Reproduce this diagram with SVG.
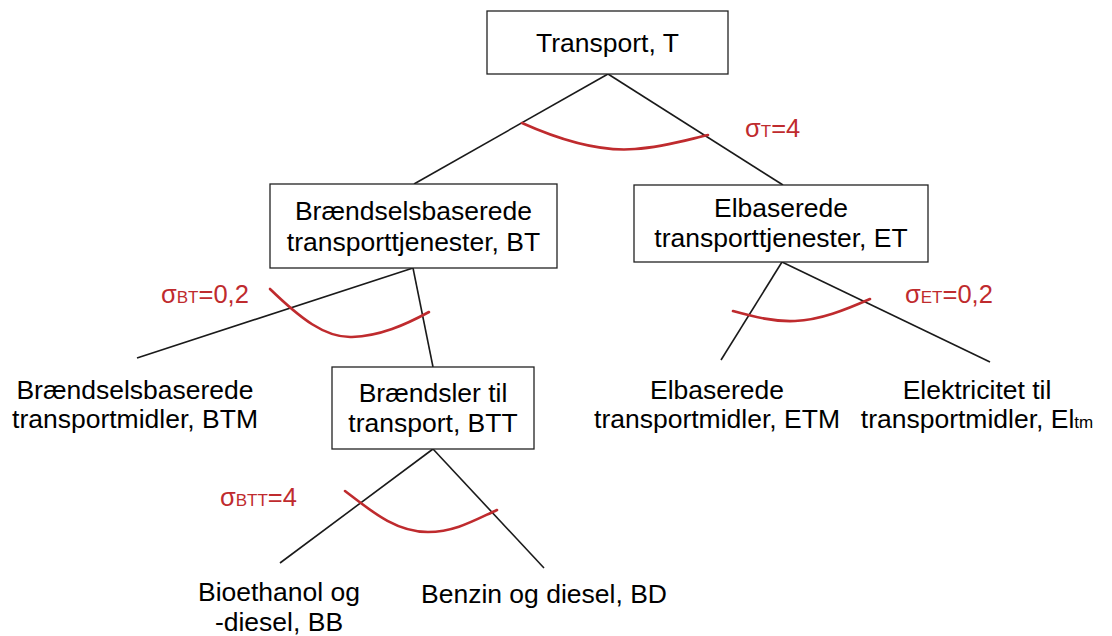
<svg xmlns="http://www.w3.org/2000/svg" width="1112" height="636" viewBox="0 0 1112 636">
  <defs>
    <style>
      .box { fill: #ffffff; stroke: #222222; stroke-width: 1.3; }
      .edge { stroke: #1a1a1a; stroke-width: 1.6; fill: none; stroke-linecap: butt; }
      .arc { stroke: #bf2b2e; stroke-width: 2.6; fill: none; stroke-linecap: round; }
      .lbl { font-family: "Liberation Sans", Arial, sans-serif; font-size: 26.5px; fill: #000000; text-anchor: middle; }
      .sig { font-family: "Liberation Sans", Arial, sans-serif; font-size: 25.5px; fill: #bf2b2e; }
      .sub { font-size: 17px; }
      .sub2 { font-size: 17px; }
    </style>
  </defs>
  <rect width="1112" height="636" fill="#ffffff"/>

  <!-- tree connectors and elasticity arcs -->
  <g id="connectors">
    <line class="edge" x1="608" y1="74" x2="414" y2="184"/>
    <line class="edge" x1="608" y1="74" x2="783" y2="185"/>
    <line class="edge" x1="413" y1="268" x2="137" y2="358"/>
    <line class="edge" x1="413" y1="268" x2="433" y2="367"/>
    <line class="edge" x1="782" y1="262" x2="721" y2="360"/>
    <line class="edge" x1="782" y1="262" x2="990" y2="362"/>
    <line class="edge" x1="433" y1="449" x2="280" y2="563"/>
    <line class="edge" x1="433" y1="449" x2="544" y2="568"/>

    <path class="arc" d="M522,123 C560,140 600,152 635,149 C665,147 690,139 708,135"/>
    <path class="arc" d="M270,289 C300,318 325,338 352,337 C380,336 405,325 429,312"/>
    <path class="arc" d="M733,311 C755,317 775,322 795,321 C820,320 845,310 870,299"/>
    <path class="arc" d="M345,491 C370,510 395,532 428,532 C455,532 475,520 497,510"/>
  </g>

  <g id="node-T">
    <rect class="box" x="487" y="11" width="241" height="63"/>
    <text class="lbl" x="607.5" y="52">Transport, T</text>
  </g>

  <g id="node-BT">
    <rect class="box" x="270" y="184" width="287" height="84"/>
    <text class="lbl" x="413.5" y="220">Brændselsbaserede</text>
    <text class="lbl" x="413.5" y="251">transporttjenester, BT</text>
  </g>

  <g id="node-ET">
    <rect class="box" x="634" y="185" width="294" height="77"/>
    <text class="lbl" x="781" y="217">Elbaserede</text>
    <text class="lbl" x="781" y="247">transporttjenester, ET</text>
  </g>

  <g id="node-BTT">
    <rect class="box" x="332" y="367" width="202" height="82"/>
    <text class="lbl" x="433" y="402">Brændsler til</text>
    <text class="lbl" x="433" y="432">transport, BTT</text>
  </g>

  <g id="node-BTM">
    <text class="lbl" x="135" y="399">Brændselsbaserede</text>
    <text class="lbl" x="135" y="428">transportmidler, BTM</text>
  </g>

  <g id="node-ETM">
    <text class="lbl" x="717" y="399">Elbaserede</text>
    <text class="lbl" x="717" y="428">transportmidler, ETM</text>
  </g>

  <g id="node-Eltm">
    <text class="lbl" x="977" y="399">Elektricitet til</text>
    <text class="lbl" x="977" y="428">transportmidler, El<tspan class="sub2">tm</tspan></text>
  </g>

  <g id="node-BB">
    <text class="lbl" x="279" y="601">Bioethanol og</text>
    <text class="lbl" x="279" y="631">-diesel, BB</text>
  </g>

  <g id="node-BD">
    <text class="lbl" x="544" y="603">Benzin og diesel, BD</text>
  </g>

  <g id="elasticities">
    <text class="sig" x="745" y="137">σ<tspan class="sub">T</tspan>=4</text>
    <text class="sig" x="161" y="303">σ<tspan class="sub">BT</tspan>=0,2</text>
    <text class="sig" x="905" y="303">σ<tspan class="sub">ET</tspan>=0,2</text>
    <text class="sig" x="220" y="506">σ<tspan class="sub">BTT</tspan>=4</text>
  </g>
</svg>
